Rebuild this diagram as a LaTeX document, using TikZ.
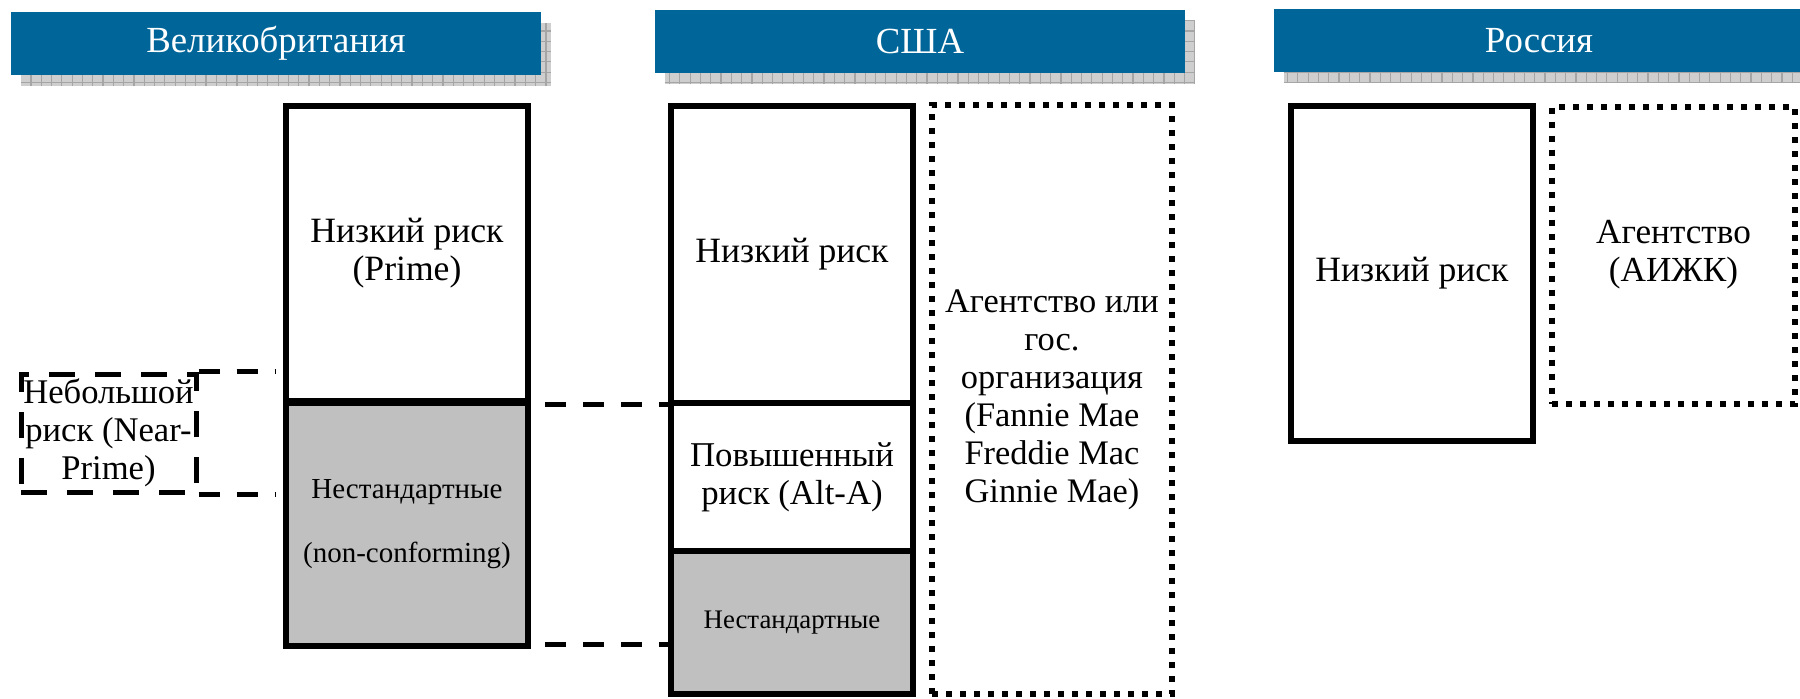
\documentclass[tikz,border=0pt]{standalone}
\usepackage{fontspec}
\setmainfont{Liberation Serif}
\usetikzlibrary{calc,backgrounds}

\definecolor{headblue}{RGB}{0,102,153}
\definecolor{shadowgray}{RGB}{206,206,206}
\definecolor{gridgray}{RGB}{165,165,165}
\definecolor{fillgray}{RGB}{192,192,192}

\tikzset{
  header/.style={fill=headblue, text=white, inner sep=0pt,
    minimum width=265pt, minimum height=31.5pt,
    font=\fontsize{18.4}{22}\selectfont},
  riskbox/.style={draw, line width=3pt, inner sep=0pt, align=center,
    minimum width=121pt, font=\fontsize{17.8}{19}\selectfont},
  nonconf/.style={riskbox, fill=fillgray},
  agency/.style={draw, line width=3pt, dash pattern=on 3pt off 4pt,
    inner sep=0pt, align=center, font=\fontsize{17.2}{19}\selectfont},
  nearbox/.style={draw, line width=2.5pt, dash pattern=on 13pt off 10pt,
    inner sep=0pt, align=center, font=\fontsize{17.3}{19}\selectfont},
  link/.style={line width=2.5pt, dash pattern=on 10.5pt off 8.5pt}
}

\begin{document}
\begin{tikzpicture}[x=0.5pt, y=-0.5pt]
  \useasboundingbox (0,0) rectangle (1800,698);

  % headers
  \node[header] (ukHead) at (276,43.5) {Великобритания};
  \node[header] (usHead) at (920,41.5) {США};
  \node[header] (ruHead) at (1539,40.5) {Россия};
  \begin{scope}[on background layer]
    \foreach \h in {ukHead,usHead,ruHead} {
      \coordinate (sw) at ($(\h.south west)+(10,11)$);
      \coordinate (ne) at ($(\h.north east)+(10,11)$);
      \begin{scope}
        \clip (sw) rectangle (ne);
        \fill[shadowgray] (sw) rectangle (ne);
        \draw[gridgray, line width=0.6pt, step=5.15pt] (sw) grid (ne);
      \end{scope}
    }
  \end{scope}

  % Great Britain
  \node[riskbox, minimum height=147.5pt] (ukLow) at (407,253.5) {Низкий риск\\(Prime)};
  \node[nonconf, minimum height=121.5pt, font=\fontsize{14.5}{17}\selectfont] (ukNon) at (407,524)
    {Нестандартные\\[15pt](non-conforming)};
  \node[nearbox, minimum width=87.5pt, minimum height=59pt] (nearPrime) at (108.5,433) {Небольшой\\риск (Near-\\Prime)};
  \draw[link, shorten >=4pt] (nearPrime.north east) -- (nearPrime.north east -| ukLow.west);
  \draw[link, shorten >=4pt] (nearPrime.south east) -- (nearPrime.south east -| ukNon.west);

  % USA
  \node[riskbox, minimum height=148.5pt] (usLow) at (792,254.5) {Низкий риск};
  \node[riskbox, minimum height=74pt, font=\fontsize{17.4}{19}\selectfont] (usAlt) at (792,477) {Повышенный\\риск (Alt-A)};
  \node[nonconf, minimum height=71.5pt, font=\fontsize{13.4}{16}\selectfont] (usNon) at (792,622.5) {Нестандартные};
  \node[agency, minimum width=120pt, minimum height=294.5pt] (usAgency) at (1052,399.5)
    {Агентство или\\гос.\\организация\\(Fannie Mae\\Freddie Mac\\Ginnie Mae)};
  \draw[link, shorten <=7pt] (ukLow.south east) -- (ukLow.south east -| usAlt.west);
  \draw[link, shorten <=7pt] ([yshift=2pt]ukNon.south east) -- ([yshift=2pt]ukNon.south east -| usNon.west);

  % Russia
  \node[riskbox, minimum height=167.5pt] (ruLow) at (1412,273.5) {Низкий риск};
  \node[agency, minimum width=121.5pt, minimum height=148.5pt, font=\fontsize{17.6}{19}\selectfont] (ruAgency) at (1673.5,255)
    {Агентство\\(АИЖК)};
\end{tikzpicture}
\end{document}
